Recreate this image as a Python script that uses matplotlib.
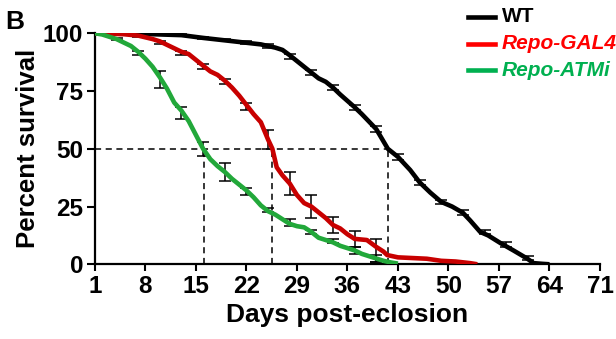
import matplotlib
matplotlib.use("Agg")
import matplotlib.pyplot as plt
from matplotlib.lines import Line2D

plt.rcParams['font.family'] = ['Liberation Sans', 'DejaVu Sans']
plt.rcParams['font.weight'] = 'bold'

# survival curves (day, percent)
wt_days = [1, 8, 13, 16, 20, 24, 26, 27, 28, 29, 30, 31, 32, 33, 34, 35, 37, 38, 40, 41.6,
           43, 44.7, 46, 47.5, 49, 50.5, 52, 53, 54.4, 55.5, 57.2, 59, 60.9, 61.8, 63, 64]
wt_pct = [100, 99.7, 99.2, 98, 96.6, 95.2, 93.8, 92.8, 90.5, 88, 85.5, 83, 80.5, 79, 76.5, 73.5, 68, 65, 58.5, 50,
          46.5, 40.8, 35.5, 31, 27, 25, 22.3, 19, 14, 12.5, 9.2, 6, 2.5, 0.5, 0.2, 0]

red_days = [1, 5, 7, 9, 10, 12, 13, 14, 15, 16, 17, 18, 19, 20, 21, 22, 23, 24, 25, 25.6, 26.2,
            27, 28, 29, 30, 31, 32, 33, 34, 35, 36, 37, 38.7, 40, 41, 41.5, 43, 45, 47, 49, 51, 53, 54]
red_pct = [100, 99.6, 99, 97.5, 96.5, 93.5, 92, 91, 88.5, 86, 83.5, 82, 79.5, 76.5, 73, 69, 65, 61.5, 54, 50, 42,
           38.5, 35, 30, 26.5, 25, 22.5, 20, 17, 15.5, 13, 11, 10.5, 7.5, 5.5, 4, 3, 2.7, 2.4, 1.5, 1.2, 0.5, 0]

grn_days = [1, 2, 3, 4, 5, 6, 7, 8, 9, 10, 11, 12, 13, 14, 15, 16, 17, 18, 19, 20, 21, 22,
            23, 24, 25, 26, 27, 28, 29, 30, 31, 32, 33, 34, 35, 36, 37, 38, 39, 40, 41, 42, 43]
grn_pct = [100, 99.5, 98.5, 97.5, 96, 94.5, 92, 89, 85.5, 81, 76, 70, 66.5, 62, 56, 50, 45.5, 42.5, 40, 37, 34.5, 32,
           29, 25.5, 23, 21.5, 19.5, 17.5, 16.5, 16, 14, 11.5, 10.5, 9.5, 8, 7, 6, 4.5, 3.5, 2.5, 1.5, 0.8, 0.3]

# error bars every 3 days (day, mean, err)
wt_err_days = [4, 7, 10, 13, 16, 19, 22, 25, 28, 31, 34, 37, 40, 43, 46, 49, 52, 55, 58, 61, 64]
wt_err_mean = [99.9, 99.8, 99.5, 99.2, 98, 97, 95.9, 94.5, 90, 83, 76.5, 68, 58.5, 46.5, 35.5, 27, 22.3, 14, 8.5, 2.8, 0]
wt_err = [0.2, 0.3, 0.3, 0.4, 0.5, 0.5, 0.6, 0.8, 1, 1, 1, 1, 1.2, 1.2, 1, 1, 1, 1, 1, 0.8, 0.3]

red_err_days = [4, 7, 10, 13, 16, 19, 22, 25, 28, 31, 34, 37, 40]
red_err_mean = [99.8, 99, 96, 91.5, 85.5, 79, 68.5, 54, 35, 25, 17, 10.8, 6]
red_err = [0.3, 0.5, 0.8, 0.8, 1, 1, 1.5, 4, 5, 5, 3.5, 3.5, 5]

grn_err_days = [4, 7, 10, 13, 16, 19, 22, 25, 28, 31, 34, 37, 40]
grn_err_mean = [97.5, 91.5, 80, 65.5, 50, 40, 31.5, 23.5, 18, 14, 10, 6, 2.5]
grn_err = [0.5, 1, 3.5, 2.5, 3, 4, 1.5, 1, 1.5, 1, 1, 1.5, 1.5]

median_days = [16.1, 25.6, 41.6]

labels = ['WT', 'Repo-GAL4', 'Repo-ATMi']
line_colors = ['black', '#C80000', '#22A83A']
text_colors = ['black', '#FF0000', '#00B050']

fig = plt.figure(figsize=(6.16, 3.39), dpi=100)
ax = fig.add_axes([0.154, 0.2204, 0.82, 0.6814])

for d, m, e in [(wt_err_days, wt_err_mean, wt_err),
                (red_err_days, red_err_mean, red_err),
                (grn_err_days, grn_err_mean, grn_err)]:
    ax.errorbar(d, m, yerr=e, fmt='none', ecolor='black', elinewidth=1.1,
                capsize=4.5, capthick=1.1, zorder=2)

ax.plot(wt_days, wt_pct, color=line_colors[0], lw=3.3, zorder=3, solid_capstyle='butt')
ax.plot(red_days, red_pct, color=line_colors[1], lw=3.3, zorder=3, solid_capstyle='butt')
ax.plot(grn_days, grn_pct, color=line_colors[2], lw=3.3, zorder=3, solid_capstyle='butt')

ax.plot([1, median_days[-1]], [50, 50], color='black', ls=(0, (4, 3)), lw=1.1, zorder=1)
for md in median_days:
    ax.plot([md, md], [0, 50], color='black', ls=(0, (4, 3)), lw=1.1, zorder=1)

ax.set_xlim(1, 71)
ax.set_ylim(0, 100)
ax.set_xticks(range(1, 72, 7))
ax.set_yticks([0, 25, 50, 75, 100])
for s in ['top', 'right']:
    ax.spines[s].set_visible(False)
for s in ['left', 'bottom']:
    ax.spines[s].set_linewidth(1.6)
ax.tick_params(axis='both', width=1.5, labelsize=17.5)
ax.tick_params(axis='x', length=5, pad=3)
ax.tick_params(axis='y', length=5.5, pad=3)
for t in ax.get_xticklabels() + ax.get_yticklabels():
    t.set_fontweight('bold')

ax.set_xlabel('Days post-eclosion', fontsize=19, fontweight='bold', labelpad=3)
ax.set_ylabel('Percent survival', fontsize=18.5, fontweight='bold', labelpad=2)

fig.text(0.008, 0.97, 'B', fontsize=19, fontweight='bold', va='top')

# legend (text runs off the right edge, as in the original figure crop)
for i, (lab, lc, tc) in enumerate(zip(labels, line_colors, text_colors)):
    y = 1 - (17 + 26.5 * i) / 339
    fig.add_artist(Line2D([468 / 616, 495 / 616], [y, y], color=lc if i == 0 else tc, lw=3.3))
    fig.text(502 / 616, y, lab, fontsize=15, fontweight='bold', color=tc, va='center',
             style='normal' if i == 0 else 'italic')

fig.savefig('out.png', dpi=100)
